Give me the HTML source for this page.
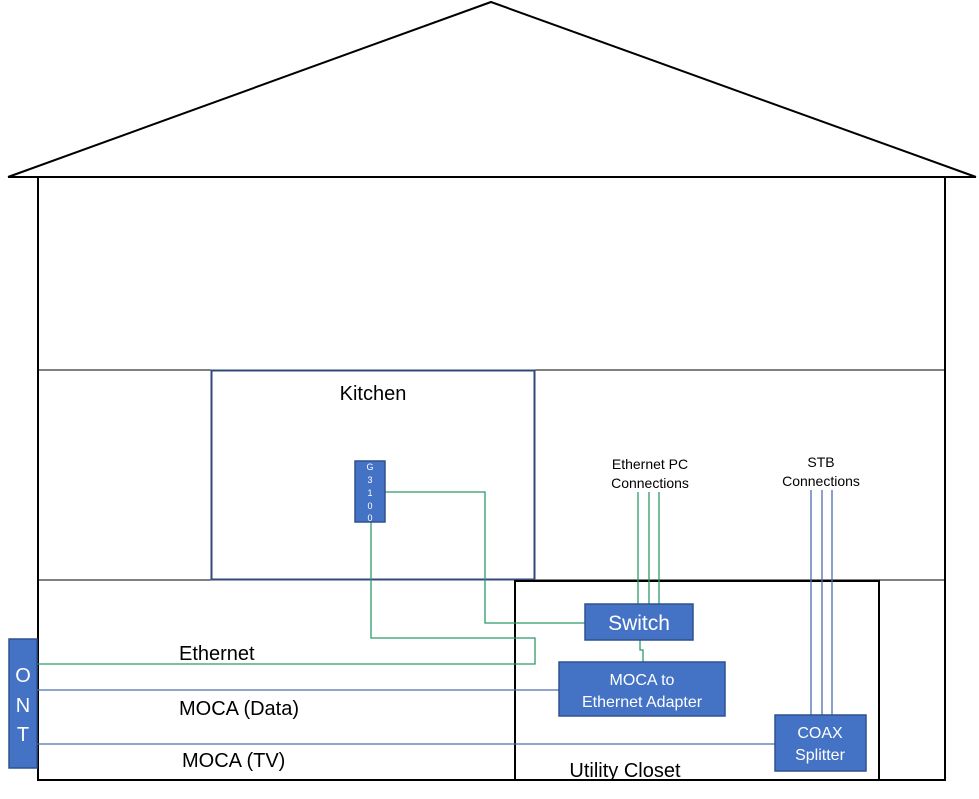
<!DOCTYPE html>
<html><head><style>
body{margin:0;background:#fff;}
svg{display:block;font-family:"Liberation Sans",sans-serif;}
</style></head><body>
<svg width="979" height="799" xmlns="http://www.w3.org/2000/svg">
<polyline points="8,177 491,2 976,177" fill="none" stroke="#000" stroke-width="2"/>
<line x1="8" y1="177" x2="976" y2="177" stroke="#000" stroke-width="2"/>
<polyline points="38,177 38,780 945,780 945,177" fill="none" stroke="#000" stroke-width="2"/>
<line x1="38" y1="370" x2="945" y2="370" stroke="#000" stroke-width="1"/>
<line x1="38" y1="580" x2="945" y2="580" stroke="#000" stroke-width="1"/>
<rect x="211.5" y="370.5" width="323" height="209" fill="#fff" stroke="#2F4A7A" stroke-width="2"/>
<text x="373" y="400" font-size="20" text-anchor="middle">Kitchen</text>
<rect x="515" y="581" width="364" height="199" fill="none" stroke="#000" stroke-width="2"/>
<text x="625" y="777" font-size="20" text-anchor="middle">Utility Closet</text>
<g fill="none" stroke="#2E9A6A" stroke-width="1.3">
<polyline points="37,664 535,664 535,638 371,638 371,522"/>
<polyline points="385,492 485,492 485,623 585,623"/>
<polyline points="640,640 640,650 643,650 643,662"/>
<line x1="638" y1="492" x2="638" y2="604"/>
<line x1="649" y1="492" x2="649" y2="604"/>
<line x1="659" y1="492" x2="659" y2="604"/>
</g>
<g fill="none" stroke="#4A6FAF" stroke-width="1.3">
<line x1="37" y1="690" x2="559" y2="690"/>
<line x1="37" y1="744" x2="775" y2="744"/>
<line x1="811" y1="490" x2="811" y2="715"/>
<line x1="822" y1="490" x2="822" y2="715"/>
<line x1="832" y1="490" x2="832" y2="715"/>
</g>
<g fill="#4472C4" stroke="#2F528F" stroke-width="1.5">
<rect x="355" y="461" width="30" height="61"/>
<rect x="585" y="604" width="108" height="36"/>
<rect x="559" y="662" width="166" height="54"/>
<rect x="775" y="715" width="91" height="56"/>
<rect x="9" y="639" width="28" height="129"/>
</g>
<g fill="#fff" text-anchor="middle">
<text x="370" y="470" font-size="9">G</text>
<text x="370" y="483" font-size="9">3</text>
<text x="370" y="496" font-size="9">1</text>
<text x="370" y="509" font-size="9">0</text>
<text x="370" y="521" font-size="9">0</text>
<text x="639" y="630" font-size="21">Switch</text>
<text x="642" y="685" font-size="16">MOCA to</text>
<text x="642" y="707" font-size="16">Ethernet Adapter</text>
<text x="820" y="738" font-size="16">COAX</text>
<text x="820" y="760" font-size="16">Splitter</text>
<text x="23" y="682" font-size="20">O</text>
<text x="23" y="712" font-size="20">N</text>
<text x="23" y="741" font-size="20">T</text>
</g>
<g font-size="14" text-anchor="middle">
<text x="650" y="469">Ethernet PC</text>
<text x="650" y="488">Connections</text>
<text x="821" y="467">STB</text>
<text x="821" y="486">Connections</text>
</g>
<g font-size="20">
<text x="179" y="660">Ethernet</text>
<text x="179" y="715">MOCA (Data)</text>
<text x="182" y="767">MOCA (TV)</text>
</g>
</svg>
</body></html>
